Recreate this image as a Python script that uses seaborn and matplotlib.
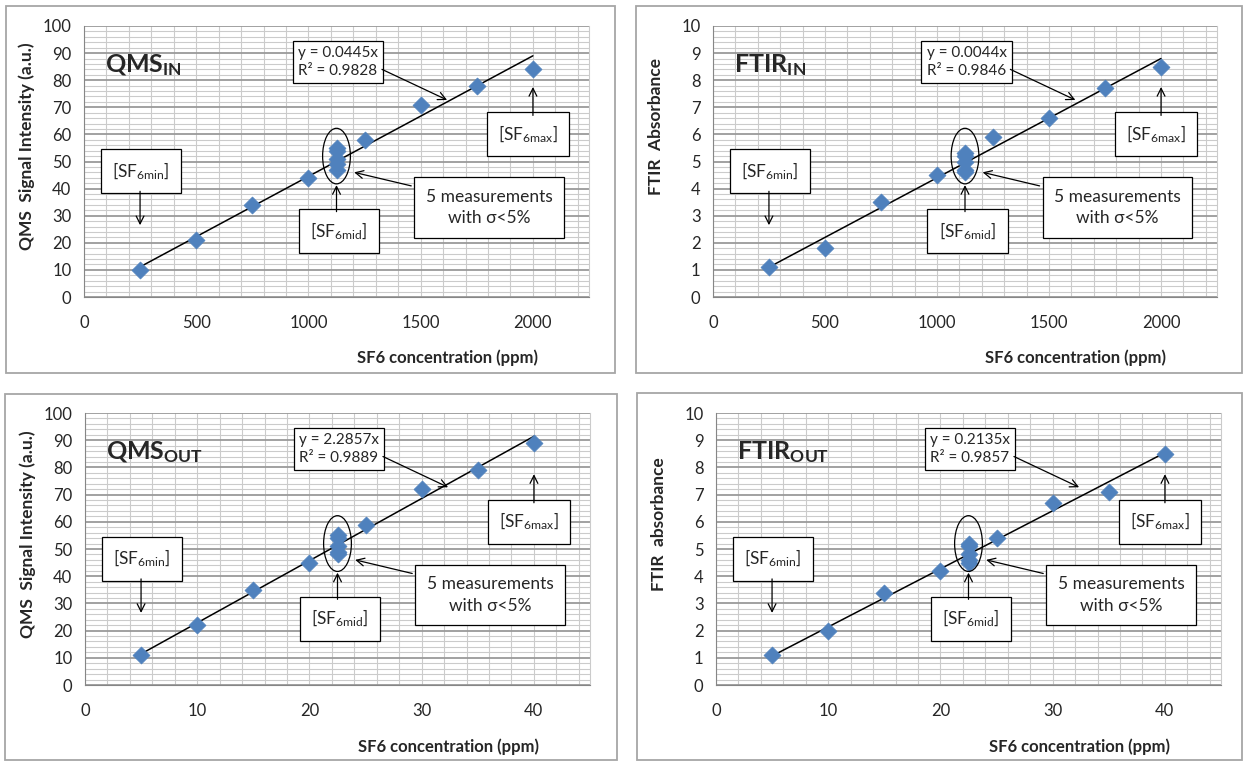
import numpy as np
import pandas as pd
import seaborn as sns
import matplotlib.pyplot as plt
from matplotlib.patches import Ellipse, Rectangle
from matplotlib.ticker import MultipleLocator

## Data.
in_x = [250, 500, 750, 1000, 1125, 1125, 1125, 1125, 1125, 1250, 1500, 1750, 2000]
out_x = [5, 10, 15, 20, 22.5, 22.5, 22.5, 22.5, 22.5, 25, 30, 35, 40]
qms_in_y = [10, 21, 34, 44, 55, 54, 51, 49, 47, 58, 71, 78, 84]
ftir_in_y = [1.1, 1.8, 3.5, 4.5, 5.3, 5.2, 5.0, 4.7, 4.6, 5.9, 6.6, 7.7, 8.5]
qms_out_y = [11, 22, 35, 45, 55, 54, 51, 49, 48, 59, 72, 79, 89]
ftir_out_y = [1.1, 2.0, 3.4, 4.2, 5.2, 5.1, 4.8, 4.6, 4.5, 5.4, 6.7, 7.1, 8.5]

slopes = [0.0445, 0.0044, 2.2857, 0.2135]
r2 = ['0.9828', '0.9846', '0.9889', '0.9857']
titles = ['QMS', 'FTIR', 'QMS', 'FTIR']
subs = ['IN', 'IN', 'OUT', 'OUT']
ylabels = ['QMS  Signal Intensity (a.u.)', 'FTIR  Absorbance',
           'QMS  Signal Intensity (a.u.)', 'FTIR  absorbance']
xlabel = 'SF6 concentration (ppm)'

### Style.
sns.set_style('white')
plt.rcParams['font.family'] = ['Lato', 'DejaVu Sans']
plt.rcParams['mathtext.fontset'] = 'custom'
plt.rcParams['mathtext.rm'] = 'Lato'
plt.rcParams['mathtext.bf'] = 'Lato:bold'
plt.rcParams['mathtext.it'] = 'Lato:italic'

W, H = 1244, 762
fig = plt.figure(figsize=(W / 100, H / 100), dpi=100)

# panel frames and axes rectangles in pixels (left, top, right, bottom)
frames = [(6, 6, 615, 373), (636, 6, 1242, 373), (5, 394, 617, 760), (637, 393, 1242, 760)]
boxes = [(84, 26, 589, 297), (713, 26, 1217, 297), (85, 413, 590, 685), (716, 413, 1221, 685)]
ylab_y = [0.557, 0.63, 0.555, 0.59]

series = [(in_x, qms_in_y), (in_x, ftir_in_y), (out_x, qms_out_y), (out_x, ftir_out_y)]

for i in range(4):
    fl, ft, fr, fb = frames[i]
    fig.patches.append(Rectangle((fl / W, 1 - fb / H), (fr - fl) / W, (fb - ft) / H,
                                 transform=fig.transFigure, fill=False,
                                 edgecolor='#A6A6A6', lw=1.3))
    l, t, r, b = boxes[i]
    ax = fig.add_axes([l / W, 1 - b / H, (r - l) / W, (b - t) / H])

    x, y = series[i]
    big = i % 2 == 0
    xmax = 2250 if i < 2 else 45
    ymax = 100 if big else 10

    df = pd.DataFrame({'x': x, 'y': y})
    fit = pd.DataFrame({'x': [x[0], x[-1]]})
    fit['y'] = slopes[i] * fit['x']

    ax.set_xlim(0, xmax)
    ax.set_ylim(0, ymax)
    ax.xaxis.set_major_locator(MultipleLocator(500 if i < 2 else 10))
    ax.xaxis.set_minor_locator(MultipleLocator(100 if i < 2 else 2))
    ax.yaxis.set_major_locator(MultipleLocator(10 if big else 1))
    ax.yaxis.set_minor_locator(MultipleLocator(2 if big else 0.2))
    ax.grid(True, which='major', axis='y', color='#9A9A9A', lw=1.3)
    ax.grid(True, which='minor', axis='y', color='#CBCBCB', lw=0.8)
    ax.grid(True, which='both', axis='x', color='#CBCBCB', lw=0.8)
    ax.set_axisbelow(True)

    sns.lineplot(data=fit, x='x', y='y', ax=ax, color='black', lw=1.1)
    sns.scatterplot(data=df, x='x', y='y', ax=ax, marker='D', s=75,
                    color='#4F81BD', edgecolor='#4F81BD', linewidth=0.5, zorder=3)

    ax.spines['top'].set_visible(False)
    ax.spines['right'].set_color('#CBCBCB')
    ax.spines['left'].set_color('#868686')
    ax.spines['bottom'].set_color('#868686')
    ax.tick_params(axis='both', which='major', direction='out', length=5,
                   color='#868686', width=1, labelsize=12)
    ax.tick_params(axis='x', which='major', pad=8)
    ax.tick_params(axis='y', which='major', pad=4)
    ax.tick_params(which='minor', length=0)

    ax.set_xlabel(xlabel, fontsize=12, fontweight='bold')
    ax.xaxis.set_label_coords(0.72, -0.195)
    ax.set_ylabel(ylabels[i], fontsize=12.5, fontweight='bold')
    ax.yaxis.set_label_coords(-0.098, ylab_y[i])

    # panel title with subscript
    ax.text(0.042, 0.855, r'$\mathbf{%s}_{\mathbf{%s}}$' % (titles[i], subs[i]),
            transform=ax.transAxes, fontsize=18, va='center', ha='left')

    box = dict(boxstyle='square,pad=0.65', fc='white', ec='black', lw=0.9)
    arrow = dict(arrowstyle='->', color='black', lw=0.9, mutation_scale=14,
                 shrinkA=0, shrinkB=0)
    tr = ax.transAxes

    # trend line equation
    ax.text(0.503, 0.867, 'y = %gx\nR² = %s' % (slopes[i], r2[i]), transform=tr,
            ha='center', va='center', fontsize=11, linespacing=1.35,
            bbox=dict(boxstyle='square,pad=0.35', fc='white', ec='black', lw=0.9))
    ax.annotate('', xy=(0.719, 0.727), xytext=(0.59, 0.84), xycoords=tr, arrowprops=arrow)

    # min / mid / max labels
    ax.text(0.113, 0.465, r'[SF$_{\mathrm{6min}}$]', transform=tr, ha='center',
            va='center', fontsize=12.5, bbox=box)
    ax.annotate('', xy=(0.111, 0.265), xytext=(0.111, 0.39), xycoords=tr, arrowprops=arrow)
    ax.text(0.505, 0.244, r'[SF$_{\mathrm{6mid}}$]', transform=tr, ha='center',
            va='center', fontsize=12.5, bbox=box)
    ax.annotate('', xy=(0.5, 0.413), xytext=(0.5, 0.315), xycoords=tr, arrowprops=arrow)
    ax.text(0.879, 0.60, r'[SF$_{\mathrm{6max}}$]', transform=tr, ha='center',
            va='center', fontsize=12.5, bbox=box)
    ax.annotate('', xy=(0.889, 0.775), xytext=(0.889, 0.67), xycoords=tr, arrowprops=arrow)

    # repeated measurements
    ax.text(0.802, 0.33, '5 measurements\nwith σ<5%', transform=tr, ha='center',
            va='center', fontsize=12.5, linespacing=1.45,
            bbox=dict(boxstyle='square,pad=0.65', fc='white', ec='black', lw=0.9))
    ax.annotate('', xy=(0.535, 0.46), xytext=(0.648, 0.41), xycoords=tr, arrowprops=arrow)
    ax.add_patch(Ellipse((0.5, 0.52), 0.055, 0.205, transform=tr, fill=False,
                         ec='black', lw=0.9, zorder=4))

fig.savefig('out.png', dpi=100)
